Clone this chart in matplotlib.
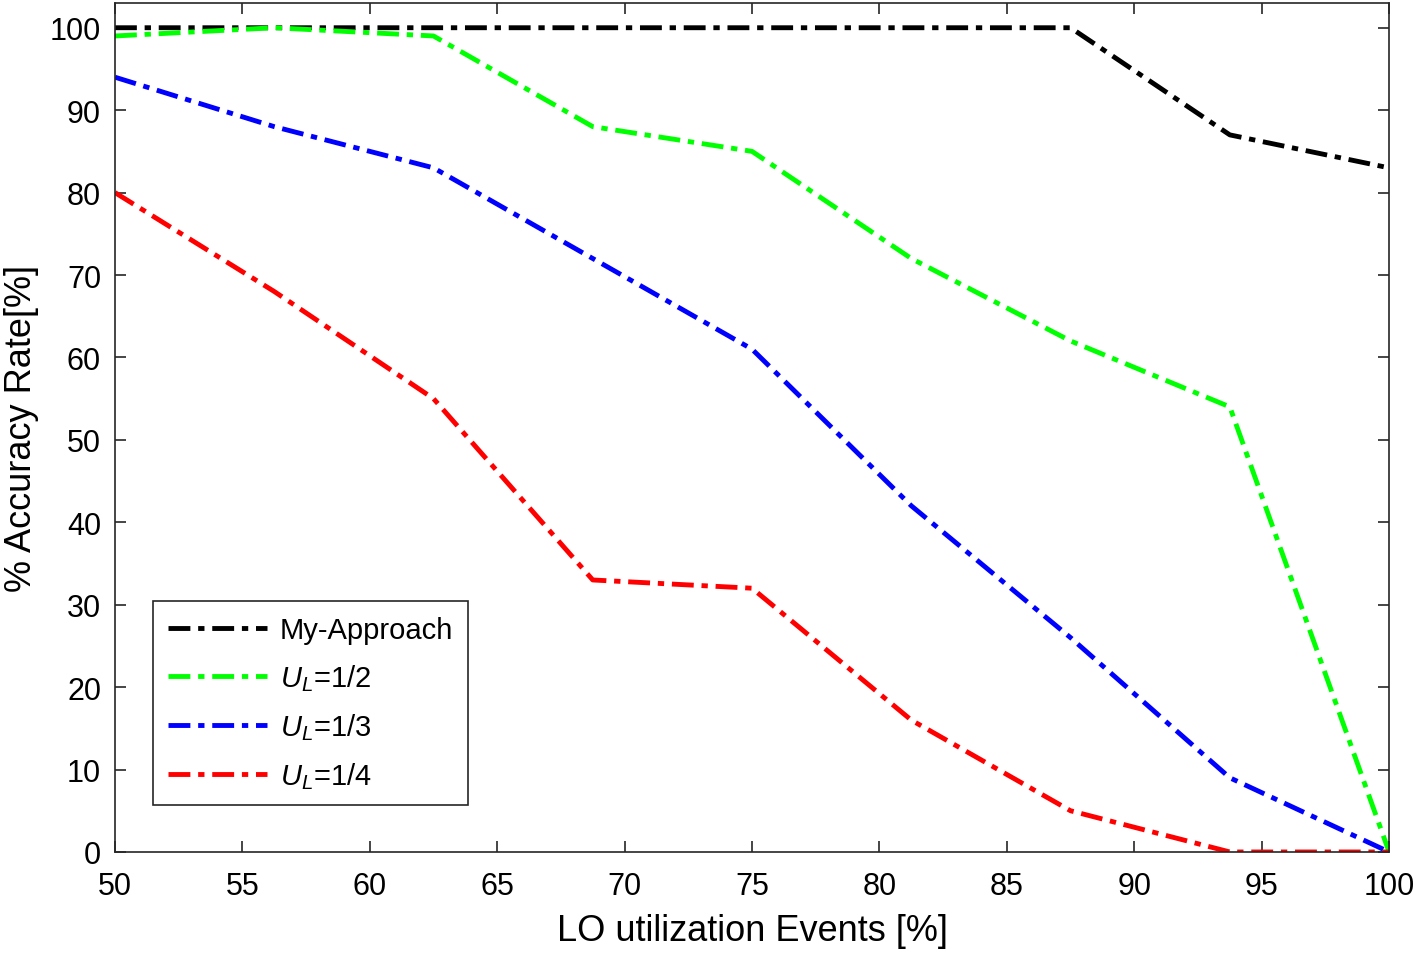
import matplotlib.pyplot as plt

plt.rcParams['font.family'] = ['Liberation Sans', 'DejaVu Sans']
plt.rcParams['mathtext.fontset'] = 'custom'
plt.rcParams['mathtext.it'] = 'Liberation Sans:italic'
plt.rcParams['mathtext.rm'] = 'Liberation Sans'

# LO utilization events (%)
x = [50, 56.25, 62.5, 68.75, 75, 81.25, 87.5, 93.75, 100]

# accuracy rate (%) per method
my_approach = [100, 100, 100, 100, 100, 100, 100, 87, 83]
ul_half = [99, 100, 99, 88, 85, 72, 62, 54, 0]
ul_third = [94, 88, 83, 72, 61, 42, 26, 9, 0]
ul_quarter = [80, 68, 55, 33, 32, 16, 5, 0, 0]

series = [
    (my_approach, 'black', 'My-Approach'),
    (ul_half, '#00ff00', r'$\mathit{U_L}$=1/2'),
    (ul_third, '#0000ff', r'$\mathit{U_L}$=1/3'),
    (ul_quarter, '#ff0000', r'$\mathit{U_L}$=1/4'),
]

fig = plt.figure(figsize=(14.16, 9.54), dpi=100)
ax = fig.add_axes([0.0812, 0.1059, 0.8998, 0.8899])

for vals, col, lab in series:
    ax.plot(x, vals, color=col, lw=3.5, dashes=(4.5, 1.6, 1.3, 1.6), label=lab)

ax.set_xlim(50, 100)
ax.set_ylim(0, 103)
ax.set_xticks(range(50, 101, 5))
ax.set_yticks(range(0, 101, 10))
ax.tick_params(direction='in', length=8, width=1.2, top=True, right=True,
               labelsize=22, colors='#262626', labelcolor='black')
ax.tick_params(axis='x', pad=14)
ax.tick_params(axis='y', pad=10)
for sp in ax.spines.values():
    sp.set_linewidth(1.2)
    sp.set_color('#262626')

ax.set_xlabel('LO utilization Events [%]', fontsize=26, labelpad=8)
ax.set_ylabel('% Accuracy Rate[%]', fontsize=26, labelpad=8)

leg = ax.legend(loc='lower left', bbox_to_anchor=(0.03, 0.055), borderaxespad=0,
                fontsize=21, fancybox=False, framealpha=1, edgecolor='#262626',
                handlelength=3.4, labelspacing=0.62, borderpad=0.5, handletextpad=0.45)
leg.get_frame().set_linewidth(1.2)

fig.savefig('out.png', dpi=100)
